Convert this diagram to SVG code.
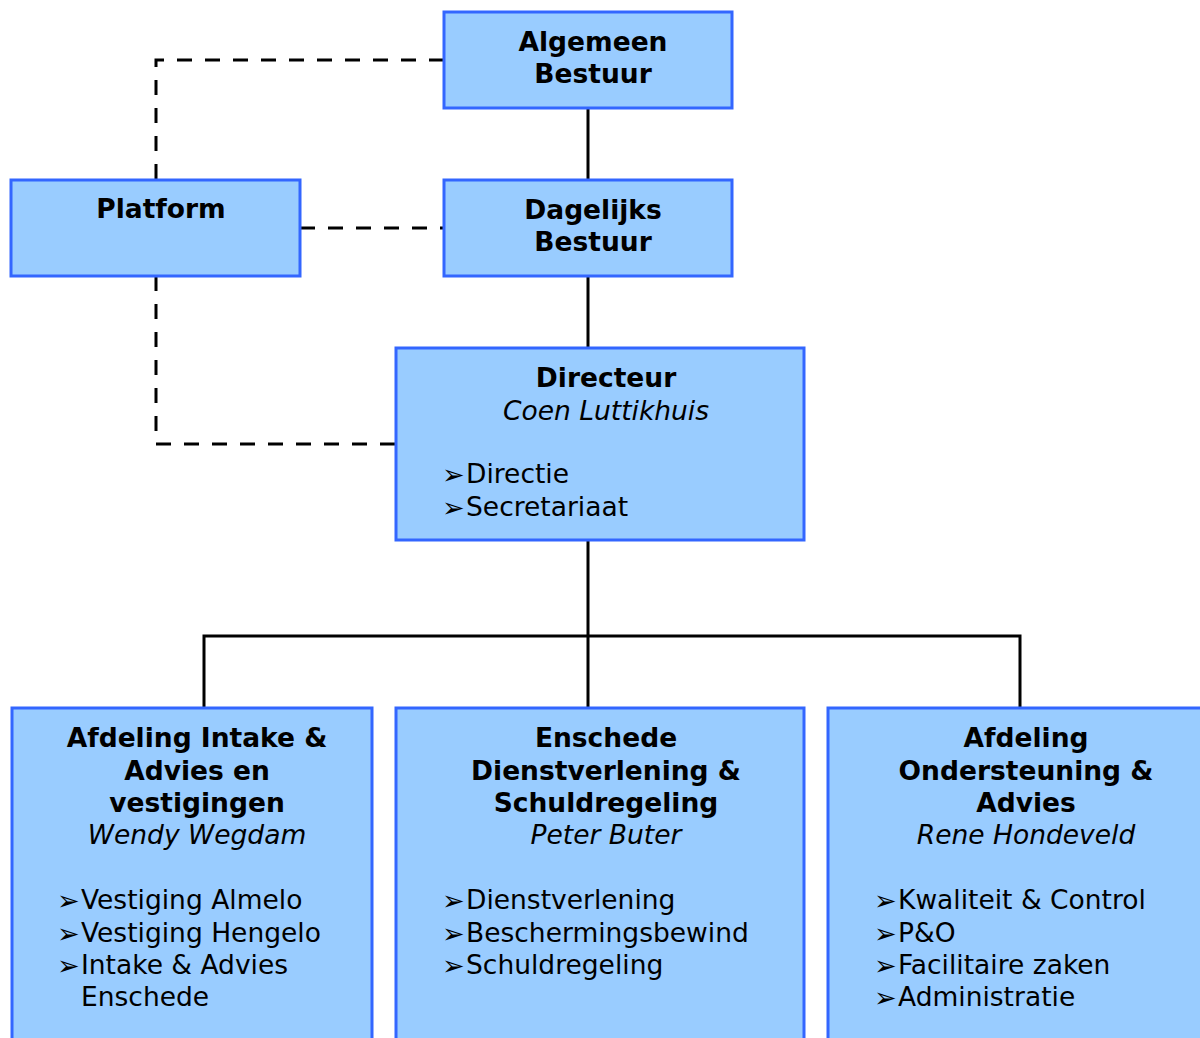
<svg xmlns="http://www.w3.org/2000/svg" width="1200" height="1038" viewBox="0 0 1200 1038">
<style>
.box{fill:#99CCFF;stroke:#3366FF;stroke-width:3}
.t{font-family:"DejaVu Sans",Verdana,sans-serif;font-size:26.5px;fill:#000}
.b{font-weight:bold;text-anchor:middle}
.i{font-style:italic;text-anchor:middle}
.bu{font-family:"DejaVu Sans",sans-serif;font-size:27px;fill:#000}
.solid{stroke:#000;stroke-width:3;fill:none}
.dash{stroke:#000;stroke-width:3;fill:none;stroke-dasharray:15 13}
</style>
<rect width="1200" height="1038" fill="#fff"/>
<g id="connectors">
<path class="solid" d="M588 108V180M588 276V348M588 540V708M204 708V636H1020V708"/>
<path class="dash" d="M444 60H156V180"/>
<path class="dash" d="M300 228H444"/>
<path class="dash" d="M156 276V444H396"/>
</g>
<g id="algemeen">
<rect class="box" x="444" y="12" width="288" height="96"/>
<text class="t b" x="593" y="51">Algemeen</text>
<text class="t b" x="593" y="83">Bestuur</text>
</g>
<g id="dagelijks">
<rect class="box" x="444" y="180" width="288" height="96"/>
<text class="t b" x="593" y="219">Dagelijks</text>
<text class="t b" x="593" y="251">Bestuur</text>
</g>
<g id="platform">
<rect class="box" x="11" y="180" width="289" height="96"/>
<text class="t b" x="161" y="218">Platform</text>
</g>
<g id="directeur">
<rect class="box" x="396" y="348" width="408" height="192"/>
<text class="t b" x="606" y="387">Directeur</text>
<text class="t i" x="606" y="420">Coen Luttikhuis</text>
<text class="bu" x="442" y="484">➢</text><text class="t" x="466" y="483">Directie</text>
<text class="bu" x="442" y="517">➢</text><text class="t" x="466" y="516">Secretariaat</text>
</g>
<g id="intake">
<rect class="box" x="12" y="708" width="360" height="340"/>
<text class="t b" x="197" y="747">Afdeling Intake &amp;</text>
<text class="t b" x="197" y="780">Advies en</text>
<text class="t b" x="197" y="812">vestigingen</text>
<text class="t i" x="197" y="844">Wendy Wegdam</text>
<text class="bu" x="57" y="910">➢</text><text class="t" x="81" y="909">Vestiging Almelo</text>
<text class="bu" x="57" y="943">➢</text><text class="t" x="81" y="942">Vestiging Hengelo</text>
<text class="bu" x="57" y="975">➢</text><text class="t" x="81" y="974">Intake &amp; Advies</text>
<text class="t" x="81" y="1006">Enschede</text>
</g>
<g id="enschede">
<rect class="box" x="396" y="708" width="408" height="340"/>
<text class="t b" x="606" y="747">Enschede</text>
<text class="t b" x="606" y="780">Dienstverlening &amp;</text>
<text class="t b" x="606" y="812">Schuldregeling</text>
<text class="t i" x="606" y="844">Peter Buter</text>
<text class="bu" x="442" y="910">➢</text><text class="t" x="466" y="909">Dienstverlening</text>
<text class="bu" x="442" y="943">➢</text><text class="t" x="466" y="942">Beschermingsbewind</text>
<text class="bu" x="442" y="975">➢</text><text class="t" x="466" y="974">Schuldregeling</text>
</g>
<g id="ondersteuning">
<rect class="box" x="828" y="708" width="400" height="340"/>
<text class="t b" x="1026" y="747">Afdeling</text>
<text class="t b" x="1026" y="780">Ondersteuning &amp;</text>
<text class="t b" x="1026" y="812">Advies</text>
<text class="t i" x="1026" y="844">Rene Hondeveld</text>
<text class="bu" x="874" y="910">➢</text><text class="t" x="898" y="909">Kwaliteit &amp; Control</text>
<text class="bu" x="874" y="943">➢</text><text class="t" x="898" y="942">P&amp;O</text>
<text class="bu" x="874" y="975">➢</text><text class="t" x="898" y="974">Facilitaire zaken</text>
<text class="bu" x="874" y="1007">➢</text><text class="t" x="898" y="1006">Administratie</text>
</g>
</svg>
